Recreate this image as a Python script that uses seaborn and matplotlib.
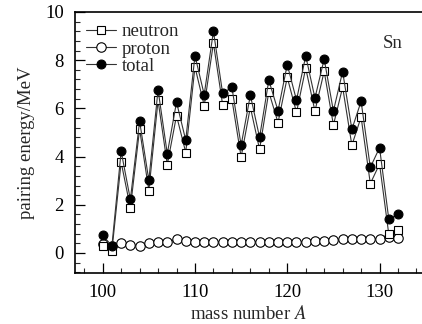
import numpy as np
import pandas as pd
import matplotlib
matplotlib.use('Agg')
import matplotlib.pyplot as plt
import seaborn as sns

# mass numbers of the Sn isotopes
mass_number = list(range(100, 133))

# pairing energies (MeV)
neutron = [0.30, 0.10, 3.77, 1.87, 5.14, 2.59, 6.33, 3.67, 5.70, 4.17,
           7.72, 6.11, 8.71, 6.14, 6.38, 3.98, 6.05, 4.30, 6.69, 5.41,
           7.29, 5.83, 7.67, 5.89, 7.54, 5.31, 6.88, 4.47, 5.64, 2.88,
           3.69, 0.78, 0.95]
proton = [0.36, 0.30, 0.40, 0.33, 0.30, 0.40, 0.45, 0.45, 0.57, 0.50,
          0.47, 0.47, 0.47, 0.47, 0.47, 0.47, 0.47, 0.47, 0.47, 0.47,
          0.47, 0.47, 0.47, 0.48, 0.48, 0.52, 0.57, 0.60, 0.60, 0.60,
          0.60, 0.65, 0.63]
total = [0.73, 0.30, 4.22, 2.22, 5.47, 3.02, 6.77, 4.12, 6.26, 4.68,
         8.19, 6.57, 9.20, 6.62, 6.88, 4.47, 6.55, 4.80, 7.17, 5.90,
         7.82, 6.34, 8.18, 6.43, 8.05, 5.89, 7.53, 5.13, 6.29, 3.55,
         4.37, 1.41, 1.60]

df = pd.DataFrame({'A': mass_number, 'neutron': neutron,
                   'proton': proton, 'total': total})

sns.set_style('ticks')
plt.rcParams['font.family'] = ['Liberation Serif', 'DejaVu Serif']
plt.rcParams['mathtext.fontset'] = 'stix'

fig = plt.figure(figsize=(4.22, 3.24), dpi=100)
ax = fig.add_axes([75 / 422, 51 / 324, 347 / 422, 261 / 324])

line_kw = dict(color='#333333', linewidth=0.8, markeredgecolor='black',
               markeredgewidth=0.8)
sns.lineplot(data=df, x='A', y='neutron', ax=ax, marker='s', markersize=5.4,
             markerfacecolor='white', label='neutron', zorder=3, **line_kw)
sns.lineplot(data=df, x='A', y='proton', ax=ax, marker='o', markersize=6.8,
             markerfacecolor='white', label='proton', zorder=2, **line_kw)
sns.lineplot(data=df, x='A', y='total', ax=ax, marker='o', markersize=6.4,
             markerfacecolor='black', label='total', zorder=4, **line_kw)

ax.set_xlim(97, 134.6)
ax.set_ylim(-0.83, 10)
ax.set_xticks([100, 110, 120, 130])
ax.set_xticks(np.arange(98, 135, 2), minor=True)
ax.set_yticks([0, 2, 4, 6, 8, 10])
ax.set_yticks(np.arange(-0.8, 10.01, 0.4), minor=True)
ax.tick_params(which='major', direction='in', length=7, width=0.9,
               labelsize=13.5, colors='black', pad=8)
ax.tick_params(which='minor', direction='in', length=3.5, width=0.8)
ax.spines['right'].set_visible(False)
for s in ['left', 'bottom', 'top']:
    ax.spines[s].set_linewidth(1.2)
    ax.spines[s].set_color('black')

ax.set_xlabel('mass number $\\mathit{A}$', fontsize=13.5, labelpad=3)
ax.set_ylabel('pairing energy/MeV', fontsize=13.5, labelpad=7)
ax.text(131.4, 8.7, 'Sn', fontsize=13.5, ha='center', va='center')

ax.legend(loc='upper left', frameon=False, fontsize=13.5, handlelength=1.6,
          handletextpad=0.3, labelspacing=0.0, borderaxespad=0.2,
          bbox_to_anchor=(0.0, 1.0))

fig.savefig('out.png', dpi=100)
